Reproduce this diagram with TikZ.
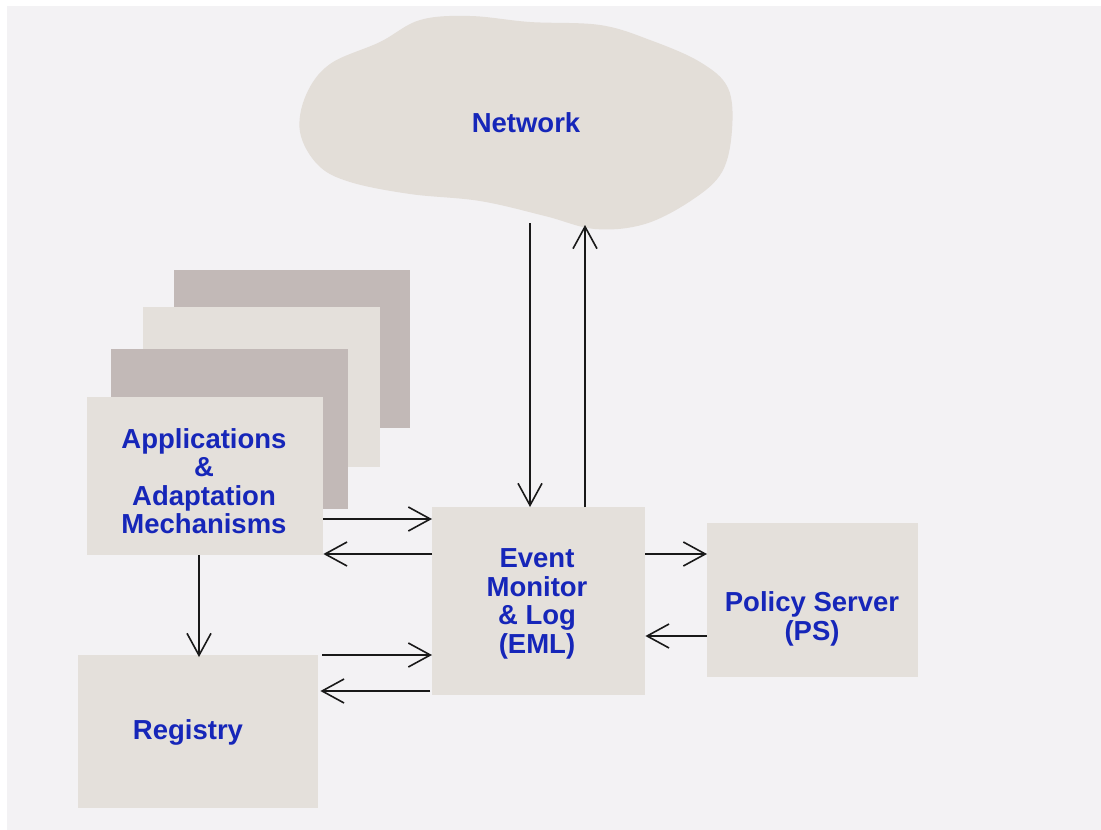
\documentclass[tikz,border=0pt]{standalone}
\usepackage{fontspec}
\setmainfont{Liberation Sans}
\usetikzlibrary{arrows.meta}

\definecolor{paper}{RGB}{243,242,244}
\definecolor{boxlight}{RGB}{228,224,219}
\definecolor{boxdark}{RGB}{194,185,183}
\definecolor{cloudfill}{RGB}{227,222,216}
\definecolor{labelblue}{RGB}{22,38,185}
\definecolor{inkline}{RGB}{25,25,25}

\newcommand\diagfont{\fontsize{27.5}{28.5}\selectfont\bfseries}

\begin{document}
\begin{tikzpicture}[x=1pt,y=-1pt,
  panel/.style={fill=boxlight, draw=none, inner sep=0pt, anchor=north west},
  darkpanel/.style={panel, fill=boxdark},
  caption/.style={text=labelblue, font=\diagfont, align=center, inner sep=0pt},
  arr/.style={draw=inkline, line width=1.6pt,
    -{Straight Barb[length=22pt,width=24pt,line width=1.6pt]}}
]
\useasboundingbox (0,0) rectangle (1101,830);
\fill[white] (-5,-5) rectangle (1110,840);
\fill[paper] (7,6) rectangle (1110,840);

% network cloud
\fill[cloudfill] plot[smooth cycle, tension=0.6] coordinates {
  (380,42) (420,20) (470,16) (530,22) (600,25) (650,40) (700,62)
  (728,88) (732,130) (722,172) (692,200) (645,224) (595,229)
  (545,216) (480,201) (410,194) (350,182) (318,165) (300,132)
  (306,95) (330,64)};
\node[caption] (net) at (526,123) {Network};
\coordinate (cloudout) at (530,223);
\coordinate (cloudin) at (585,225);

% stacked application panels, back to front
\node[darkpanel, minimum width=236pt, minimum height=158pt] (stackA) at (174,270) {};
\node[panel, minimum width=237pt, minimum height=160pt] (stackB) at (143,307) {};
\node[darkpanel, minimum width=237pt, minimum height=160pt] (stackC) at (111,349) {};
\node[panel, minimum width=236pt, minimum height=158pt] (app) at (87,397) {};
\node[caption] (apptext) at (204,481) {Applications\\\&\\Adaptation\\Mechanisms};

% event monitor, policy server, registry
\node[panel, minimum width=213pt, minimum height=188pt] (eml) at (432,507) {};
\node[caption] (emltext) at (537,604) {Event\\Monitor\\\& Log\\(EML)};

\node[panel, minimum width=211pt, minimum height=154pt] (ps) at (707,523) {};
\node[caption] (pstext) at (812,619) {Policy Server\\(PS)};

\node[panel, minimum width=240pt, minimum height=153pt] (reg) at (78,655) {};
\node[caption] (regtext) at (188,732) {Registry};

% connectors
\draw[arr] (cloudout) -- (eml.north -| cloudout);
\draw[arr] (eml.north -| cloudin) -- (cloudin);

\draw[arr] (app.east |- 0,519) -- (eml.west |- 0,519);
\draw[arr] (eml.west |- 0,554) -- (app.east |- 0,554);

\draw[arr] ([xshift=4pt]reg.east |- 0,655) -- (eml.west |- 0,655);
\draw[arr] ([xshift=-2pt]eml.west |- 0,691) -- ([xshift=2pt]reg.east |- 0,691);

\draw[arr] (eml.east |- 0,554) -- (ps.west |- 0,554);
\draw[arr] (ps.west |- 0,636) -- (eml.east |- 0,636);

\draw[arr] (app.south -| 199,0) -- ([yshift=-2pt]reg.north -| 199,0);
\end{tikzpicture}
\end{document}
